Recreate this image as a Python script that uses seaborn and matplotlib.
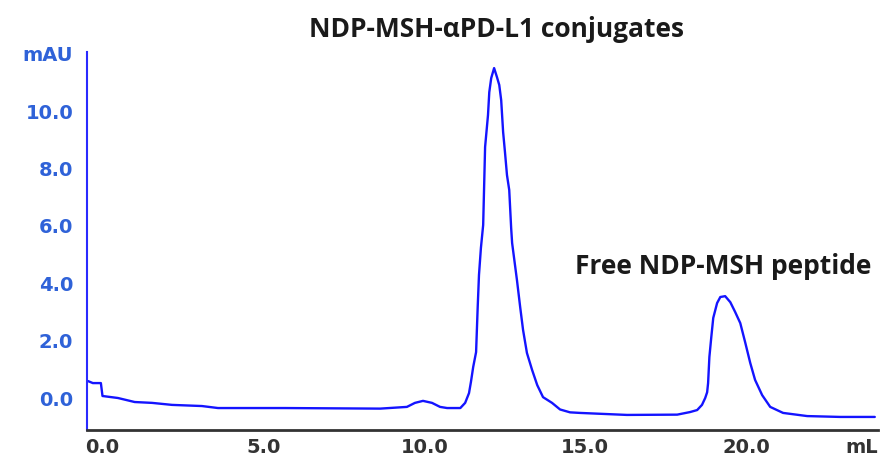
import matplotlib
matplotlib.use("Agg")
import matplotlib.pyplot as plt
import seaborn as sns
import pandas as pd

# Elution volume (mL) and absorbance (mAU)
volume_ml = [-0.45, -0.30, -0.05, 0.0, 0.48, 1.0, 1.54, 2.16, 3.09, 3.59,
             5.67, 8.63, 9.46, 9.71, 9.96, 10.24, 10.49, 10.71, 11.12, 11.27,
             11.39, 11.45, 11.52, 11.61, 11.66, 11.70, 11.76, 11.83, 11.89, 11.98,
             12.02, 12.08, 12.17, 12.26, 12.33, 12.39, 12.45, 12.51, 12.57, 12.64,
             12.70, 12.73, 12.88, 12.98, 13.07, 13.19, 13.35, 13.51, 13.69, 13.97,
             14.22, 14.53, 14.84, 16.3, 17.86, 18.26, 18.48, 18.63, 18.73, 18.79,
             18.82, 18.86, 18.92, 18.98, 19.10, 19.20, 19.35, 19.51, 19.66, 19.82,
             19.97, 20.13, 20.28, 20.50, 20.75, 21.15, 21.90, 22.93, 24.0]
absorbance_mau = [0.59, 0.52, 0.52, 0.07, 0.00, -0.14, -0.17, -0.24, -0.28, -0.35,
                  -0.35, -0.37, -0.31, -0.17, -0.10, -0.17, -0.31, -0.35, -0.35, -0.17,
                  0.17, 0.56, 1.08, 1.60, 3.17, 4.29, 5.23, 6.03, 8.75, 9.86,
                  10.66, 11.15, 11.50, 11.18, 10.91, 10.38, 9.27, 8.54, 7.77, 7.25,
                  5.92, 5.40, 4.11, 3.17, 2.37, 1.57, 0.98, 0.45, 0.03, -0.17,
                  -0.40, -0.50, -0.52, -0.59, -0.58, -0.49, -0.42, -0.24, 0.0, 0.20,
                  0.52, 1.43, 2.13, 2.79, 3.31, 3.52, 3.55, 3.34, 3.00, 2.61,
                  1.95, 1.22, 0.63, 0.10, -0.31, -0.52, -0.63, -0.66, -0.66]

x_ticks = [0, 5, 10, 15, 20, 23.6]
x_tick_labels = ["0.0", "5.0", "10.0", "15.0", "20.0", "mL"]
y_ticks = [0, 2, 4, 6, 8, 10, 12]
y_tick_labels = ["0.0", "2.0", "4.0", "6.0", "8.0", "10.0", "mAU"]

title_text = "NDP-MSH-\u03b1PD-L1 conjugates"
peak2_text = "Free NDP-MSH peptide"

sns.set_style("white")
plt.rcParams["font.family"] = ["DejaVu Sans"]

df = pd.DataFrame({"mL": volume_ml, "mAU": absorbance_mau})

fig = plt.figure(figsize=(8.81, 4.59), dpi=100)
ax = fig.add_axes([0.0988, 0.0632, 0.8978, 0.8235])

line_color = "#1414ff"
sns.lineplot(data=df, x="mL", y="mAU", ax=ax, color=line_color, linewidth=1.7,
             sort=False, estimator=None)

ax.set_xlim(-0.48, 24.1)
ax.set_ylim(-1.115, 12.06)
ax.set_xlabel("")
ax.set_ylabel("")

ax.set_xticks(x_ticks)
ax.set_xticklabels(x_tick_labels, fontsize=14, fontweight="bold", color="#333333")
ax.set_yticks(y_ticks)
ax.set_yticklabels(y_tick_labels, fontsize=14, fontweight="bold", color="#2f62d8")

ax.tick_params(axis="x", direction="inout", length=4, width=1.2, color="white", pad=4)
ax.tick_params(axis="y", length=0, pad=10)

for side in ["top", "right"]:
    ax.spines[side].set_visible(False)
ax.spines["left"].set_color("#2a2aff")
ax.spines["left"].set_linewidth(1.5)
ax.spines["bottom"].set_color("#333333")
ax.spines["bottom"].set_linewidth(2.0)
ax.set_zorder(1)

fig.text(0.5636, 0.9194, title_text, ha="center", va="baseline",
         fontsize=19, fontweight="bold", color="#1a1a1a", family=["Open Sans", "DejaVu Sans"])
fig.text(0.8207, 0.403, peak2_text, ha="center", va="baseline",
         fontsize=19, fontweight="bold", color="#1a1a1a", family=["Open Sans", "DejaVu Sans"])

fig.savefig("out.png", dpi=100)
